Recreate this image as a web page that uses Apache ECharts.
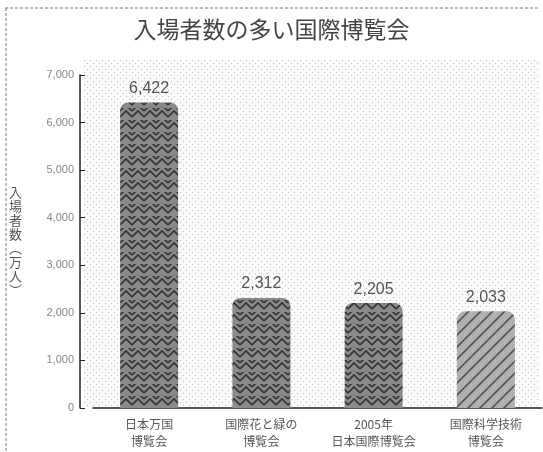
<!DOCTYPE html>
<html><head><meta charset="utf-8">
<script src="https://cdn.jsdelivr.net/npm/echarts@6/dist/echarts.min.js"></script>
<style>html,body{margin:0;padding:0;background:#fff}#c{width:543px;height:452px}</style>
</head><body><div id="c"></div>
<script>
const categories = ['日本万国\n博覧会', '国際花と緑の\n博覧会', '2005年\n日本国際博覧会', '国際科学技術\n博覧会'];
const visitors = [6422, 2312, 2205, 2033];
const yTicks = [0, 1000, 2000, 3000, 4000, 5000, 6000, 7000];

function makePattern(bg, fg, diag) {
  const c = document.createElement('canvas');
  c.width = 12; c.height = 12;
  const g = c.getContext('2d');
  g.fillStyle = bg; g.fillRect(0, 0, 12, 12);
  g.strokeStyle = fg; g.lineWidth = 1.6;
  g.beginPath();
  if (diag) {
    g.moveTo(0, 12); g.lineTo(12, 0);
    g.moveTo(-6, 6); g.lineTo(6, -6);
    g.moveTo(6, 18); g.lineTo(18, 6);
  } else {
    g.moveTo(0, 9); g.lineTo(6, 3); g.lineTo(12, 9);
    g.moveTo(0, 3); g.lineTo(6, -3); g.lineTo(12, 3);
  }
  g.stroke();
  return c;
}
function makeDots() {
  const c = document.createElement('canvas');
  c.width = 6; c.height = 6;
  const g = c.getContext('2d');
  g.fillStyle = '#fafafa'; g.fillRect(0, 0, 6, 6);
  g.fillStyle = '#bdbdbd';
  g.fillRect(0, 0, 1, 1); g.fillRect(3, 3, 1, 1);
  return c;
}
const darkPat = {image: makePattern('#8a8a8a', '#333', false), repeat: 'repeat'};
const lightPat = {image: makePattern('#b0b0b0', '#555', true), repeat: 'repeat'};

const chart = echarts.init(document.getElementById('c'));
chart.setOption({
  backgroundColor: '#fff',
  animation: false,
  title: {
    text: '入場者数の多い国際博覧会', left: 'center', top: 13,
    textStyle: {fontFamily: 'Noto Sans CJK JP', fontSize: 23, fontWeight: 'normal', color: '#444'}
  },
  graphic: [
    {type: 'rect', left: 84, top: 60, shape: {width: 456, height: 347}, z: -10,
     style: {fill: {image: makeDots(), repeat: 'repeat'}}},
    {type: 'line', shape: {x1: 5, y1: 8, x2: 540, y2: 8}, style: {stroke: '#777', lineDash: [3, 2]}},
    {type: 'line', shape: {x1: 6, y1: 8, x2: 6, y2: 452}, style: {stroke: '#777', lineDash: [3, 2]}}
  ],
  grid: {left: 93, right: 1, top: 75, bottom: 44},
  xAxis: {
    type: 'category', data: categories,
    axisLine: {lineStyle: {color: '#222', width: 1.5}},
    axisTick: {show: false},
    axisLabel: {color: '#555', fontSize: 12, lineHeight: 17, margin: 8, fontFamily: 'Noto Sans CJK JP', interval: 0}
  },
  yAxis: {
    type: 'value', min: 0, max: 7000, interval: 1000, offset: 13,
    name: '入\n場\n者\n数\n︵\n万\n人\n︶', nameLocation: 'middle', nameRotate: 0, nameGap: 58,
    nameTextStyle: {color: '#555', fontSize: 13, lineHeight: 14, fontFamily: 'Noto Sans CJK JP'},
    axisLine: {show: true, lineStyle: {color: '#222', width: 1.5}},
    axisTick: {show: true, inside: true, length: 5, lineStyle: {color: '#222'}},
    splitLine: {show: false},
    axisLabel: {color: '#888', fontSize: 11, margin: 6,
      formatter: v => yTicks.includes(v) ? v.toLocaleString('en-US') : ''}
  },
  series: [{
    type: 'bar', barWidth: 58,
    data: visitors.map((v, i) => ({value: v, itemStyle: {color: i === 3 ? lightPat : darkPat}})),
    itemStyle: {borderRadius: [8, 8, 0, 0]},
    label: {show: true, position: 'top', distance: 6, color: '#555', fontSize: 16,
      formatter: p => p.value.toLocaleString('en-US')}
  }]
});
</script></body></html>
